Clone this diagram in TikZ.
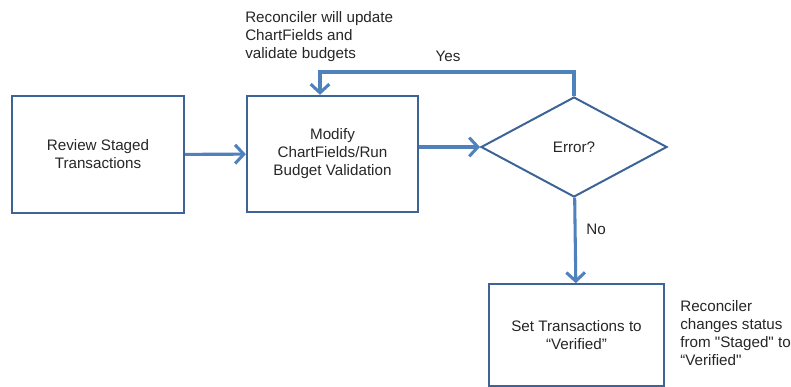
\documentclass[tikz,border=0pt]{standalone}
\usepackage{fontspec}
\setmainfont{Liberation Sans}[Ligatures=TeXOff]
\usetikzlibrary{shapes.geometric}
\usetikzlibrary{arrows.meta}
\definecolor{flowblue}{HTML}{4F81BD}
\definecolor{boxblue}{HTML}{3C6496}

\begin{document}
\begin{tikzpicture}[
            x=0.75pt, y=-0.75pt,
            font=\fontsize{11.4}{13.5}\selectfont,
            text=black!85,
            box node/.style={rectangle,draw=boxblue,line width=1.7pt,align=center,inner sep=0pt},
            choice node/.style={diamond,draw=boxblue,line width=1.5pt,inner sep=0pt,aspect=1.86,minimum width=139.5pt,minimum height=75pt},
            flow/.style={draw=flowblue,line width=2.3pt,-{Straight Barb[length=6.5pt,width=14pt,line width=2.3pt]}},
            note/.style={align=left,inner sep=0pt,anchor=north west},
            ]
            \useasboundingbox (0,0) rectangle (791,386);
            
            \node[box node, minimum width=129pt, minimum height=87.75pt] (review) at (98,154.5) {Review Staged\\Transactions};
            \node[box node, minimum width=128.25pt, minimum height=87pt] (modify) at (332.5,154) {Modify\\ChartFields/Run\\Budget Validation};
            \node[choice node] (error) at (574,147) {Error?};
            \node[box node, minimum width=131.25pt, minimum height=76pt] (verify) at (576.5,335) {Set Transactions to\\“Verified”};
            \coordinate (back) at (320,72);
            
            \node[note] (upd) at (245,11) {Reconciler will update\\ChartFields and\\validate budgets};
            \node[note] (stat) at (680,300) {Reconciler\\changes status\\from "Staged" to\\“Verified"};
            \node[inner sep=0pt] (yes) at (448,56) {Yes};
            \node[inner sep=0pt] (no) at (596,229) {No};
            
            \draw[flow] (review) -- (modify);
            \draw[flow] (modify.east |- error.west) -- (error.west);
            \draw[flow] (error.north) |- (back) -- (back |- modify.north);
            \draw[flow] (error) -- (verify);
        \end{tikzpicture}
\end{document}
